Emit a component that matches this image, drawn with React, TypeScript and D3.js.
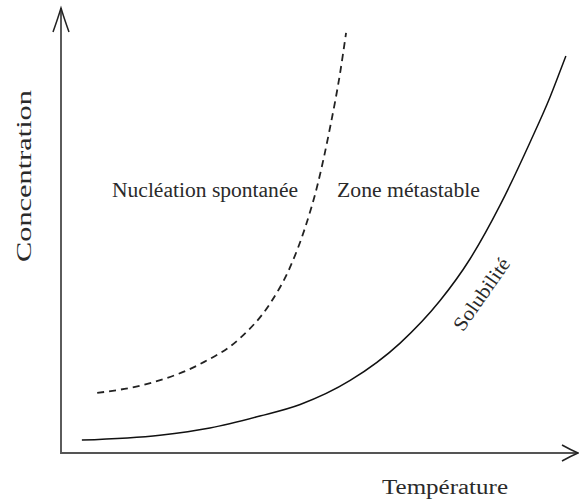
import React from "react";
import * as d3 from "d3";

// Data in abstract units (temperature 0–10, concentration 0–10)
const dashedT = [0.69, 1.73, 2.71, 3.49, 4.08, 4.47, 4.76, 5.02, 5.25, 5.45, 5.57];
const dashedC = [1.35, 1.57, 2.0, 2.58, 3.36, 4.17, 5.04, 6.07, 7.28, 8.52, 9.44];
const solidT = [0.39, 1.92, 2.9, 3.88, 4.67, 5.65, 6.63, 7.41, 8.0, 8.59, 9.18, 9.57, 9.76, 9.88];
const solidC = [0.29, 0.4, 0.56, 0.83, 1.09, 1.63, 2.47, 3.42, 4.36, 5.57, 6.99, 8.0, 8.56, 8.92];

const W = 579;
const H = 502;

export default function App() {
  const x = d3.scaleLinear().domain([0, 10]).range([62, 572]);
  const y = d3.scaleLinear().domain([0, 10]).range([453, 8]);

  const line = d3
    .line<[number, number]>()
    .x((d) => x(d[0]))
    .y((d) => y(d[1]))
    .curve(d3.curveMonotoneX);

  const dashed = dashedT.map((t, i) => [t, dashedC[i]] as [number, number]);
  const solid = solidT.map((t, i) => [t, solidC[i]] as [number, number]);

  const x0 = x(0) - 1;
  const y0 = y(0);
  const font = "'Liberation Serif', 'DejaVu Serif', serif";
  const textColor = "#2a2a2a";

  return (
    <svg
      width={W}
      height={H}
      style={{ position: "absolute", left: 0, top: 0, background: "#fff" }}
    >
      {/* axes */}
      <line x1={x0} y1={y0 + 1} x2={x0} y2={8} stroke="#333" strokeWidth={1.6} />
      <line x1={x0} y1={y0} x2={578} y2={y0} stroke="#555" strokeWidth={1.8} />
      {/* arrowheads */}
      <path
        d={`M ${x0 - 8} 32 Q ${x0 - 3} 18 ${x0} 8 Q ${x0 + 3} 18 ${x0 + 8} 32`}
        fill="none"
        stroke="#222"
        strokeWidth={1.5}
      />
      <path
        d={`M 562 ${y0 - 8} Q 571 ${y0 - 3} 578 ${y0} Q 571 ${y0 + 3} 562 ${y0 + 8}`}
        fill="none"
        stroke="#222"
        strokeWidth={1.5}
      />

      {/* curves */}
      <path d={line(dashed) ?? ""} fill="none" stroke="#222" strokeWidth={1.8} strokeDasharray="7,5" />
      <path d={line(solid) ?? ""} fill="none" stroke="#111" strokeWidth={1.5} />

      {/* labels */}
      <g fontFamily={font} fontSize={20} fill={textColor}>
        <text x={112} y={197} textLength={186} lengthAdjust="spacingAndGlyphs">
          Nucléation spontanée
        </text>
        <text x={337} y={197} textLength={143} lengthAdjust="spacingAndGlyphs">
          Zone métastable
        </text>
        <text x={382} y={494} textLength={126} lengthAdjust="spacingAndGlyphs">
          Température
        </text>
        <text
          transform="translate(31,176) rotate(-90)"
          textAnchor="middle"
          textLength={172}
          lengthAdjust="spacingAndGlyphs"
        >
          Concentration
        </text>
        <text
          transform="translate(487,298) rotate(-55)"
          textAnchor="middle"
          textLength={84}
          lengthAdjust="spacingAndGlyphs"
        >
          Solubilité
        </text>
      </g>
    </svg>
  );
}
